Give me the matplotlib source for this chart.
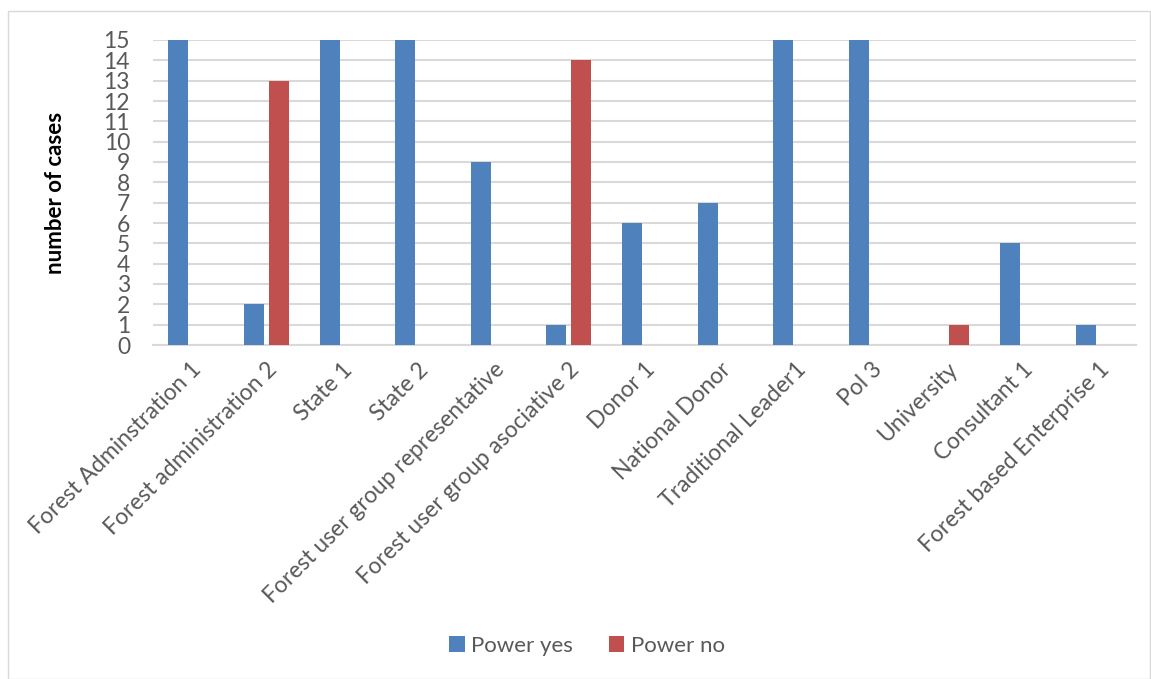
import numpy as np
import matplotlib
matplotlib.use("Agg")
import matplotlib.pyplot as plt
from matplotlib.patches import Rectangle

plt.rcParams['font.family'] = ['Lato', 'DejaVu Sans']

categories = ["Forest Adminstration 1", "Forest administration 2", "State 1", "State 2",
              "Forest user group representative", "Forest user group asociative 2",
              "Donor 1", "National Donor", "Traditional Leader1", "Pol 3",
              "University", "Consultant 1", "Forest based Enterprise 1"]
power_yes = [15, 2, 15, 15, 9, 1, 6, 7, 15, 15, 0, 5, 1]
power_no = [0, 13, 0, 0, 0, 14, 0, 0, 0, 0, 1, 0, 0]

blue = '#4F81BD'
red = '#C0504D'
txt = '#595959'

fig = plt.figure(figsize=(11.51, 6.79), dpi=100)
# outer chart frame
fig.patches.append(Rectangle((8/1151, 0), 1 - 9/1151, 1 - 11/679, transform=fig.transFigure,
                             fill=False, edgecolor='#D9D9D9', linewidth=1))

ax = fig.add_axes([153/1151, 1 - 345/679, (1136 - 153)/1151, (345 - 40)/679])
x = np.arange(len(categories))
w = 0.265
ax.bar(x - 0.165, power_yes, w, color=blue, label='Power yes', zorder=3)
ax.bar(x + 0.165, power_no, w, color=red, label='Power no', zorder=3)

ax.set_xlim(-0.5, len(categories) - 0.5)
ax.set_ylim(0, 15)
ax.set_yticks(range(0, 16))
ax.yaxis.grid(True, color='#D9D9D9', linewidth=1.5, zorder=0)
for s in ['top', 'right', 'left']:
    ax.spines[s].set_visible(False)
ax.spines['bottom'].set_color('#D9D9D9')
ax.spines['bottom'].set_linewidth(1.5)
ax.tick_params(axis='both', length=0, labelsize=16.5, labelcolor=txt)
ax.tick_params(axis='y', pad=16.5)
ax.set_xticks(x)
ax.set_xticklabels(categories, rotation=45, ha='right', rotation_mode='anchor')
ax.tick_params(axis='x', pad=10)
ax.set_ylabel('number of cases', fontsize=16, fontweight='bold', color='black', labelpad=27)

fig.legend(loc='center', bbox_to_anchor=(0.51, 1 - 646/679), ncol=2, frameon=False,
           fontsize=16, labelcolor=txt, handlelength=0.7, handleheight=0.7,
           handletextpad=0.3, columnspacing=1.6)

fig.savefig('out.png', dpi=100)
